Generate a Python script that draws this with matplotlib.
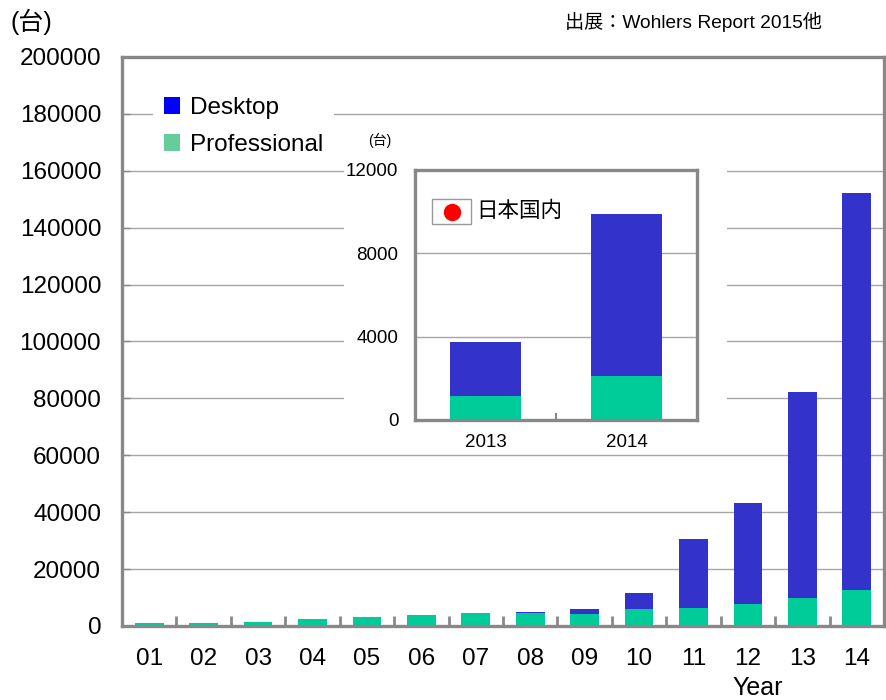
import matplotlib
matplotlib.use("Agg")
import matplotlib.pyplot as plt
from matplotlib.patches import Patch, Rectangle
import numpy as np

plt.rcParams['font.family'] = ['Liberation Sans', 'Noto Sans CJK JP', 'DejaVu Sans']

years = ['01', '02', '03', '04', '05', '06', '07', '08', '09', '10', '11', '12', '13', '14']
professional = [1000, 1200, 1500, 2500, 3200, 3900, 4600, 4500, 4100, 5800, 6500, 7700, 9800, 12700]
desktop = [0, 0, 0, 0, 0, 0, 0, 400, 1900, 5900, 24000, 35500, 72300, 139500]

inset_years = ['2013', '2014']
inset_professional = [1150, 2100]
inset_desktop = [2610, 7800]

yticks_main = list(range(0, 200001, 20000))
yticks_inset = [0, 4000, 8000, 12000]

C_DESK = '#3333CC'
C_PROF = '#00CC99'
GREY = '#888888'
GRID = '#A6A6A6'

W, H = 886, 700
fig = plt.figure(figsize=(W / 100, H / 100), dpi=100)

def fx(px):
    return px / W

def fy(py):
    return 1 - py / H

# ---------------- main axes ----------------
ax = fig.add_axes([fx(122), fy(626), fx(884) - fx(122), fy(57) - fy(626)])
ax.set_zorder(0)
x = np.arange(len(years))
ax.bar(x, professional, width=0.53, color=C_PROF, edgecolor='none', zorder=2)
ax.bar(x, desktop, width=0.53, bottom=professional, color=C_DESK, edgecolor='none', zorder=2)
ax.set_xlim(-0.5, 13.5)
ax.set_ylim(0, 200000)
ax.set_yticks(yticks_main)
ax.set_yticklabels([str(v) for v in yticks_main], fontsize=17.5)
ax.set_xticks(x)
ax.set_xticklabels(years, fontsize=17.5)
ax.set_xticks(np.arange(0.5, 13, 1), minor=True)
ax.tick_params(axis='x', which='major', length=0, pad=16)
ax.tick_params(axis='x', which='minor', direction='in', length=7, width=2, color=GREY)
ax.tick_params(axis='y', which='major', direction='in', length=6, width=1, color=GREY, pad=15)
ax.yaxis.grid(True, color=GRID, linewidth=1)
ax.set_axisbelow(True)
for s in ax.spines.values():
    s.set_color(GREY)
    s.set_linewidth(2.4)

handles = [Patch(facecolor='#0000FF', edgecolor='none'), Patch(facecolor='#66CC99', edgecolor='none')]
leg = fig.legend(handles, ['Desktop', 'Professional'], loc='upper left',
                 bbox_to_anchor=(fx(153), fy(86)), bbox_transform=fig.transFigure,
                 frameon=True, fancybox=False, framealpha=1, edgecolor='none', facecolor='white',
                 fontsize=17.5, handlelength=0.68, handleheight=0.68, handletextpad=0.4,
                 labelspacing=0.62, borderpad=0.45, borderaxespad=0)
leg.set_zorder(1.5)

fig.text(fx(10), fy(22), '(台)', fontsize=18, ha='left', va='center')
fig.text(fx(565), fy(22), '出展：Wohlers Report 2015他', fontsize=13.8, ha='left', va='center')
fig.text(fx(758), fy(688), 'Year', fontsize=18, ha='center', va='center')

# white background behind inset
bg = Rectangle((fx(344), fy(452)), fx(727) - fx(344), fy(125) - fy(452),
               transform=fig.transFigure, facecolor='white', edgecolor='none', zorder=2)
fig.patches.append(bg)

# ---------------- inset axes ----------------
ax2 = fig.add_axes([fx(415), fy(420), fx(697) - fx(415), fy(170) - fy(420)])
ax2.set_zorder(3)
xi = np.arange(len(inset_years))
ax2.bar(xi, inset_professional, width=0.5, color=C_PROF, edgecolor='none', zorder=2)
ax2.bar(xi, inset_desktop, width=0.5, bottom=inset_professional, color=C_DESK,
        edgecolor='none', zorder=2)
ax2.set_xlim(-0.5, 1.5)
ax2.set_ylim(0, 12000)
ax2.set_yticks(yticks_inset)
ax2.set_yticklabels([str(v) for v in yticks_inset], fontsize=13.5)
ax2.set_xticks(xi)
ax2.set_xticklabels(inset_years, fontsize=13.5)
ax2.set_xticks([0.5], minor=True)
ax2.tick_params(axis='x', which='major', length=0, pad=10)
ax2.tick_params(axis='x', which='minor', direction='in', length=5, width=1.5, color=GREY)
ax2.tick_params(axis='y', which='major', length=0, pad=12)
ax2.yaxis.grid(True, color=GRID, linewidth=1)
ax2.set_axisbelow(True)
for s in ax2.spines.values():
    s.set_color(GREY)
    s.set_linewidth(2.4)

# inset legend
ax2.add_patch(Rectangle((0.06, 0.784), 0.139, 0.10, transform=ax2.transAxes,
                        facecolor='white', edgecolor='#999999', linewidth=1, zorder=4))
ax2.plot([0.1295], [0.834], marker='o', markersize=11.5, color='#FF0000',
         transform=ax2.transAxes, zorder=5, clip_on=False)
ax2.text(0.216, 0.834, '日本国内', transform=ax2.transAxes, fontsize=15.5,
         ha='left', va='center', zorder=5)

fig.text(fx(380), fy(140), '(台)', fontsize=10, ha='center', va='center', zorder=4)

fig.savefig('out.png', dpi=100)
